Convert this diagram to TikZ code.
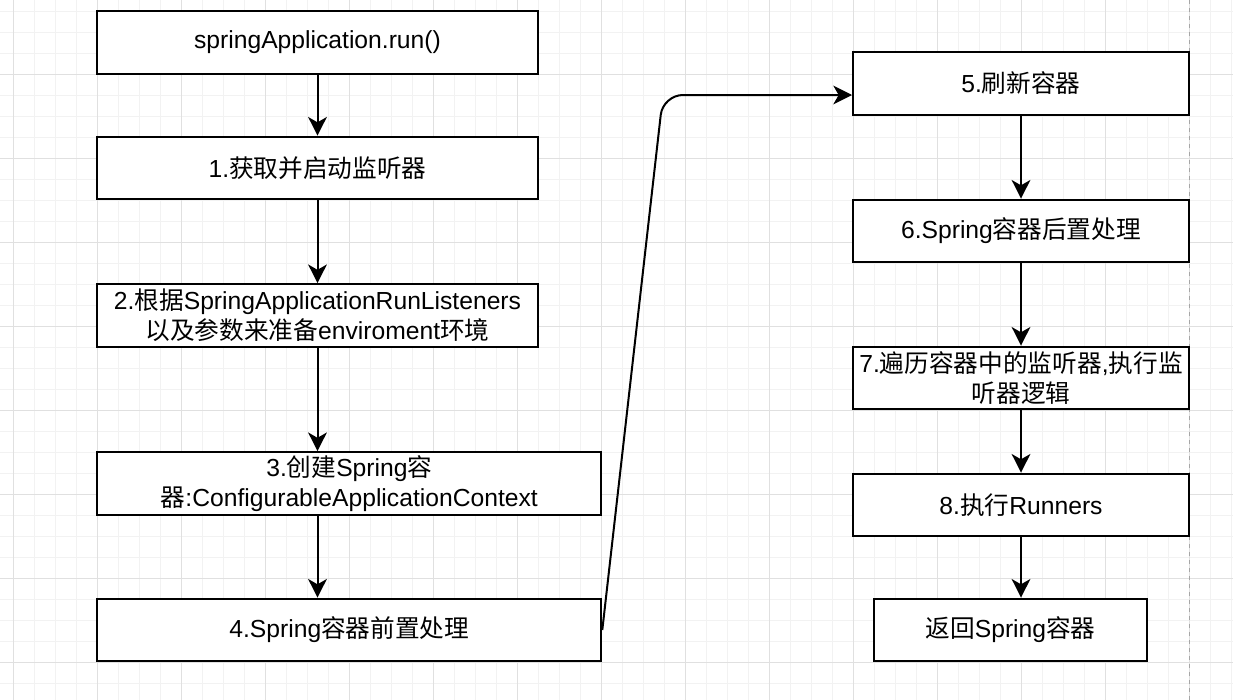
\documentclass[tikz,border=0pt]{standalone}
\usepackage{fontspec}
\setmainfont{Liberation Sans}
\newfontfamily\cjk{Noto Sans CJK SC}
\usetikzlibrary{arrows.meta,positioning}

\tikzset{
  stepbox/.style={draw=black,line width=1.5pt,fill=white,minimum height=47pt,
    inner sep=0pt,align=center,font=\fontsize{18.5}{22.5}\selectfont},
  flowarrow/.style={line width=1.5pt,-{Stealth[length=14pt,width=14pt,inset=4pt]}},
  minorgrid/.style={black!5,line width=0.75pt},
  majorgrid/.style={black!12,line width=0.75pt}
}

\begin{document}
\begin{tikzpicture}[x=0.75pt,y=-0.75pt]
\useasboundingbox (0,0) rectangle (1233,700);
% background grid
\begin{scope}
\clip (0,0) rectangle (1233,700);
\foreach \k in {0,...,59} \draw[minorgrid] ({-7.7+21*\k},0) -- ({-7.7+21*\k},700);
\foreach \k in {0,...,34} \draw[minorgrid] (0,{-10+21*\k}) -- (1233,{-10+21*\k});
\foreach \k in {0,...,14} \draw[majorgrid] ({13.3+84*\k},0) -- ({13.3+84*\k},700);
\foreach \k in {0,...,9} \draw[majorgrid] (0,{-10+84*\k}) -- (1233,{-10+84*\k});
\end{scope}
\draw[black!35,dashed,line width=0.75pt] (1189,0) -- (1189,700);

% left column
\node[stepbox,minimum width=330.75pt] (run) at (317.5,42.5) {springApplication.run()};
\node[stepbox,minimum width=330.75pt] (s1) at (317.5,168) {1.{\cjk 获取并启动监听器}};
\node[stepbox,minimum width=330.75pt] (s2) at (317.5,315.5)
  {2.{\cjk 根据}SpringApplicationRunListeners\\{\cjk 以及参数来准备}enviroment{\cjk 环境}};
\node[stepbox,minimum width=378pt] (s3) at (349.3,483.5)
  {3.{\cjk 创建}Spring{\cjk 容}\\{\cjk 器}:ConfigurableApplicationContext};
\node[stepbox,minimum width=378pt] (s4) at (349.3,630) {4.Spring{\cjk 容器前置处理}};

% right column
\node[stepbox,minimum width=252pt] (s5) at (1021,83.5) {5.{\cjk 刷新容器}};
\node[stepbox,minimum width=252pt] (s6) at (1021,231) {6.Spring{\cjk 容器后置处理}};
\node[stepbox,minimum width=252pt] (s7) at (1021,378)
  {7.{\cjk 遍历容器中的监听器},{\cjk 执行监}\\{\cjk 听器逻辑}};
\node[stepbox,minimum width=252pt] (s8) at (1021,505) {8.{\cjk 执行}Runners};
\node[stepbox,minimum width=204.75pt] (ret) at (1010.5,630) {{\cjk 返回}Spring{\cjk 容器}};

% connectors
\draw[flowarrow] (run.south) -- (s1.north);
\draw[flowarrow] (s1.south) -- (s2.north);
\draw[flowarrow] (s2.south) -- (s2.south |- s3.north);
\draw[flowarrow] (s2.south |- s3.south) -- (s2.south |- s4.north);
\coordinate (bend) at (663,95);
\draw[flowarrow,rounded corners=15pt] (s4.east) -- (bend) -- (bend -| s5.west);
\draw[flowarrow] (s5.south) -- (s6.north);
\draw[flowarrow] (s6.south) -- (s7.north);
\draw[flowarrow] (s7.south) -- (s8.north);
\draw[flowarrow] (s8.south) -- (s8.south |- ret.north);
\end{tikzpicture}
\end{document}
